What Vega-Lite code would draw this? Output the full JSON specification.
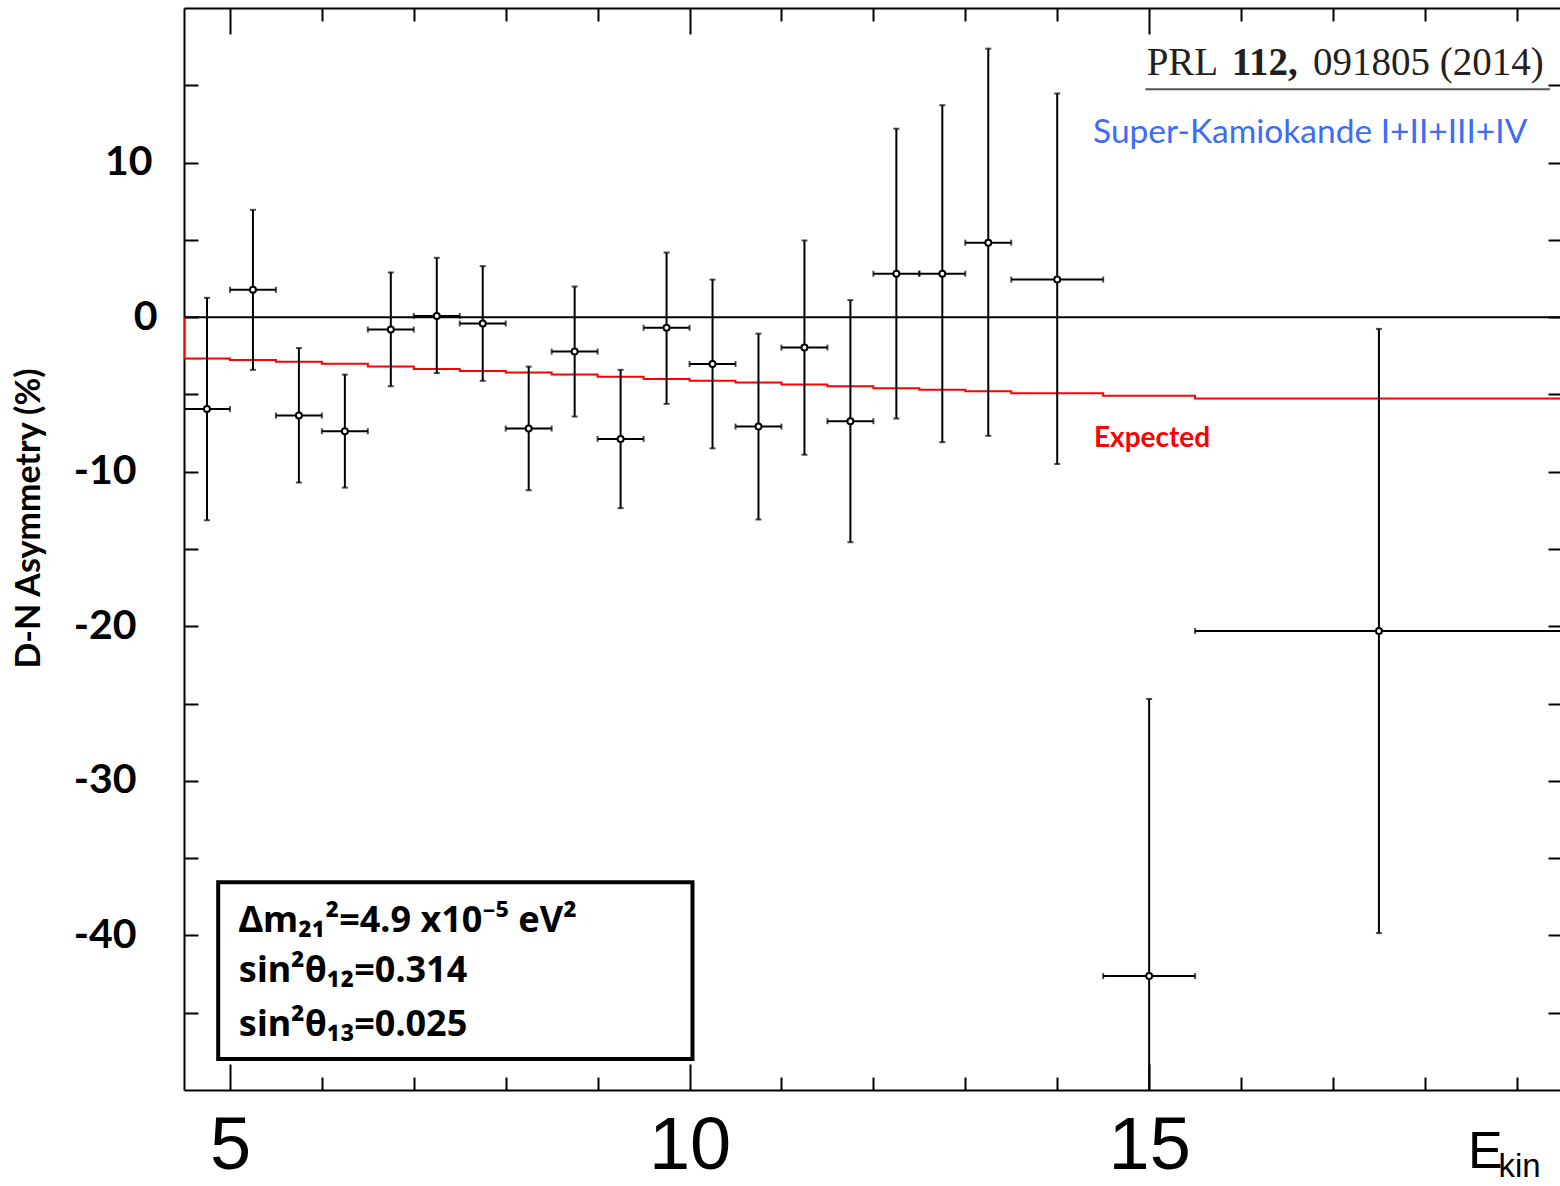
{
  "$schema": "https://vega.github.io/schema/vega-lite/v6.json",
  "width": 1376,
  "height": 1082,
  "autosize": {"type": "none"},
  "padding": {"left": 184, "top": 8, "right": 0, "bottom": 96},
  "background": "white",
  "config": {
    "view": {"stroke": null},
    "axis": {"grid": false, "domainColor": "black", "domainWidth": 2, "tickColor": "black", "tickWidth": 2}
  },
  "datasets": {
    "asym": [
      {"E": 4.75, "Elo": 4.5, "Ehi": 5.0, "A": -5.95, "lo": -13.14, "hi": 1.25},
      {"E": 5.25, "Elo": 5.0, "Ehi": 5.5, "A": 1.77, "lo": -3.41, "hi": 6.94},
      {"E": 5.75, "Elo": 5.5, "Ehi": 6.0, "A": -6.37, "lo": -10.7, "hi": -2.0},
      {"E": 6.25, "Elo": 6.0, "Ehi": 6.5, "A": -7.38, "lo": -11.03, "hi": -3.72},
      {"E": 6.75, "Elo": 6.5, "Ehi": 7.0, "A": -0.8, "lo": -4.47, "hi": 2.89},
      {"E": 7.25, "Elo": 7.0, "Ehi": 7.5, "A": 0.08, "lo": -3.62, "hi": 3.84},
      {"E": 7.75, "Elo": 7.5, "Ehi": 8.0, "A": -0.41, "lo": -4.12, "hi": 3.3},
      {"E": 8.25, "Elo": 8.0, "Ehi": 8.5, "A": -7.21, "lo": -11.2, "hi": -3.2},
      {"E": 8.75, "Elo": 8.5, "Ehi": 9.0, "A": -2.23, "lo": -6.43, "hi": 1.98},
      {"E": 9.25, "Elo": 9.0, "Ehi": 9.5, "A": -7.88, "lo": -12.36, "hi": -3.41},
      {"E": 9.75, "Elo": 9.5, "Ehi": 10.0, "A": -0.69, "lo": -5.61, "hi": 4.18},
      {"E": 10.25, "Elo": 10.0, "Ehi": 10.5, "A": -3.03, "lo": -8.49, "hi": 2.43},
      {"E": 10.75, "Elo": 10.5, "Ehi": 11.0, "A": -7.08, "lo": -13.09, "hi": -1.07},
      {"E": 11.25, "Elo": 11.0, "Ehi": 11.5, "A": -1.97, "lo": -8.9, "hi": 4.96},
      {"E": 11.75, "Elo": 11.5, "Ehi": 12.0, "A": -6.73, "lo": -14.56, "hi": 1.1},
      {"E": 12.25, "Elo": 12.0, "Ehi": 12.5, "A": 2.81, "lo": -6.56, "hi": 12.19},
      {"E": 12.75, "Elo": 12.5, "Ehi": 13.0, "A": 2.81, "lo": -8.09, "hi": 13.71},
      {"E": 13.25, "Elo": 13.0, "Ehi": 13.5, "A": 4.82, "lo": -7.68, "hi": 17.37},
      {"E": 14.0, "Elo": 13.5, "Ehi": 14.5, "A": 2.43, "lo": -9.5, "hi": 14.47},
      {"E": 15.0, "Elo": 14.5, "Ehi": 15.5, "A": -42.63, "lo": -60.5, "hi": -24.7},
      {"E": 17.5, "Elo": 15.5, "Ehi": 19.5, "A": -20.3, "lo": -39.85, "hi": -0.76}
    ],
    "expected": [
      {"i": 0, "E": 4.5, "exp": 0},
      {"i": 1, "E": 4.5, "exp": -2.67},
      {"i": 2, "E": 5.0, "exp": -2.78},
      {"i": 3, "E": 5.5, "exp": -2.89},
      {"i": 4, "E": 6.0, "exp": -3.02},
      {"i": 5, "E": 6.5, "exp": -3.19},
      {"i": 6, "E": 7.0, "exp": -3.35},
      {"i": 7, "E": 7.5, "exp": -3.48},
      {"i": 8, "E": 8.0, "exp": -3.58},
      {"i": 9, "E": 8.5, "exp": -3.71},
      {"i": 10, "E": 9.0, "exp": -3.86},
      {"i": 11, "E": 9.5, "exp": -4.0},
      {"i": 12, "E": 10.0, "exp": -4.12},
      {"i": 13, "E": 10.5, "exp": -4.23},
      {"i": 14, "E": 11.0, "exp": -4.36},
      {"i": 15, "E": 11.5, "exp": -4.47},
      {"i": 16, "E": 12.0, "exp": -4.6},
      {"i": 17, "E": 12.5, "exp": -4.7},
      {"i": 18, "E": 13.0, "exp": -4.79},
      {"i": 19, "E": 13.5, "exp": -4.92},
      {"i": 20, "E": 14.5, "exp": -5.09},
      {"i": 21, "E": 15.5, "exp": -5.26},
      {"i": 22, "E": 19.5, "exp": -5.26}
    ],
    "one": [{}]
  },
  "resolve": {"axis": {"x": "independent", "y": "independent"}},
  "layer": [
    {
      "data": {"name": "one"},
      "mark": {"type": "rule", "color": "black", "strokeWidth": 2},
      "encoding": {"y": {"datum": 0, "type": "quantitative", "axis": null}}
    },
    {
      "data": {"name": "expected"},
      "mark": {"type": "line", "interpolate": "step-after", "color": "#ff0000", "strokeWidth": 2, "clip": true},
      "encoding": {
        "x": {"field": "E", "type": "quantitative", "axis": null},
        "y": {"field": "exp", "type": "quantitative", "axis": null},
        "order": {"field": "i", "type": "quantitative"}
      }
    },
    {
      "data": {"name": "asym"},
      "mark": {"type": "rule", "color": "black", "strokeWidth": 2, "clip": true},
      "encoding": {
        "x": {
          "field": "E", "type": "quantitative",
          "scale": {"domain": [4.5, 19.47], "nice": false, "zero": false},
          "axis": {
            "orient": "bottom",
            "values": [5, 6, 7, 8, 9, 10, 11, 12, 13, 14, 15, 16, 17, 18, 19],
            "tickSize": {"condition": {"test": "datum.value % 5 === 0", "value": -26}, "value": -13},
            "labelExpr": "datum.value % 5 === 0 ? datum.label : ''",
            "labelFont": "Liberation Sans", "labelFontSize": 74, "labelFontWeight": "normal", "labelColor": "black",
            "labelPadding": 46, "labelBaseline": "top", "labelAlign": "center",
            "labelFlush": false, "labelOverlap": false,
            "title": null
          }
        },
        "y": {
          "field": "lo", "type": "quantitative",
          "scale": {"domain": [-50, 20], "nice": false, "zero": false},
          "axis": {
            "orient": "left",
            "values": [-45, -40, -35, -30, -25, -20, -15, -10, -5, 0, 5, 10, 15],
            "tickSize": -14,
            "labelExpr": "datum.value % 10 === 0 && datum.value >= -40 && datum.value <= 10 ? (datum.value < 0 ? '-' + abs(datum.value) : '' + datum.value) : ''",
            "labelFont": "Lato", "labelFontSize": 41, "labelFontWeight": "bold", "labelColor": "black",
            "labelAlign": "right", "labelBaseline": "middle",
            "labelPadding": {"condition": [{"test": "datum.value === 0", "value": 41}, {"test": "datum.value === 10", "value": 46}], "value": 62},
            "labelFlush": false, "labelOverlap": false,
            "title": "D-N Asymmetry (%)",
            "titleFont": "Lato", "titleFontSize": 34, "titleFontWeight": "bold", "titleColor": "black",
            "titleAngle": -90, "titleX": -155, "titleY": 510, "titleAlign": "center", "titleBaseline": "middle"
          }
        },
        "y2": {"field": "hi"}
      }
    },
    {
      "data": {"name": "asym"},
      "mark": {"type": "rule", "color": "black", "strokeWidth": 2, "clip": true},
      "encoding": {
        "x": {
          "field": "Elo", "type": "quantitative",
          "scale": {"domain": [4.5, 19.47], "nice": false, "zero": false},
          "axis": {
            "orient": "top",
            "values": [5, 6, 7, 8, 9, 10, 11, 12, 13, 14, 15, 16, 17, 18, 19],
            "tickSize": {"condition": {"test": "datum.value % 5 === 0", "value": -26}, "value": -13},
            "labels": false, "title": null
          }
        },
        "x2": {"field": "Ehi"},
        "y": {
          "field": "A", "type": "quantitative",
          "scale": {"domain": [-50, 20], "nice": false, "zero": false},
          "axis": {
            "orient": "right",
            "values": [-45, -40, -35, -30, -25, -20, -15, -10, -5, 0, 5, 10, 15],
            "tickSize": -12, "labels": false, "domain": false, "title": null
          }
        }
      }
    },
    {
      "data": {"name": "asym"},
      "mark": {"type": "tick", "orient": "horizontal", "size": 6, "thickness": 2, "color": "black", "clip": true},
      "encoding": {
        "x": {"field": "E", "type": "quantitative", "axis": null},
        "y": {"field": "lo", "type": "quantitative", "axis": null}
      }
    },
    {
      "data": {"name": "asym"},
      "mark": {"type": "tick", "orient": "horizontal", "size": 6, "thickness": 2, "color": "black", "clip": true},
      "encoding": {
        "x": {"field": "E", "type": "quantitative", "axis": null},
        "y": {"field": "hi", "type": "quantitative", "axis": null}
      }
    },
    {
      "data": {"name": "asym"},
      "mark": {"type": "tick", "orient": "vertical", "size": 6, "thickness": 2, "color": "black", "clip": true},
      "encoding": {
        "x": {"field": "Elo", "type": "quantitative", "axis": null},
        "y": {"field": "A", "type": "quantitative", "axis": null}
      }
    },
    {
      "data": {"name": "asym"},
      "mark": {"type": "tick", "orient": "vertical", "size": 6, "thickness": 2, "color": "black", "clip": true},
      "encoding": {
        "x": {"field": "Ehi", "type": "quantitative", "axis": null},
        "y": {"field": "A", "type": "quantitative", "axis": null}
      }
    },
    {
      "data": {"name": "asym"},
      "mark": {"type": "point", "shape": "circle", "filled": true, "fill": "white", "stroke": "black", "strokeWidth": 2, "size": 36, "opacity": 1},
      "encoding": {
        "x": {"field": "E", "type": "quantitative", "axis": null},
        "y": {"field": "A", "type": "quantitative", "axis": null}
      }
    },
    {
      "data": {"name": "one"},
      "mark": {"type": "text", "text": "Expected", "font": "Lato", "fontSize": 28, "fontWeight": "bold", "color": "#ff0000", "align": "left", "baseline": "alphabetic"},
      "encoding": {"x": {"datum": 14.4, "type": "quantitative", "axis": null}, "y": {"datum": -8.38, "type": "quantitative", "axis": null}}
    },
    {
      "data": {"name": "one"},
      "mark": {"type": "text", "text": "Super-Kamiokande I+II+III+IV", "font": "Lato", "fontSize": 33.5, "color": "#3d6cf5", "align": "left", "baseline": "alphabetic"},
      "encoding": {"x": {"datum": 14.39, "type": "quantitative", "axis": null}, "y": {"datum": 11.29, "type": "quantitative", "axis": null}}
    },
    {
      "data": {"name": "one"},
      "mark": {"type": "text", "text": "PRL", "font": "Liberation Serif", "fontSize": 39, "color": "#231f20", "align": "left", "baseline": "alphabetic"},
      "encoding": {"x": {"datum": 14.973, "type": "quantitative", "axis": null}, "y": {"datum": 15.665, "type": "quantitative", "axis": null}}
    },
    {
      "data": {"name": "one"},
      "mark": {"type": "text", "text": "112,", "font": "Liberation Serif", "fontSize": 39, "fontWeight": "bold", "color": "#231f20", "align": "left", "baseline": "alphabetic"},
      "encoding": {"x": {"datum": 15.898, "type": "quantitative", "axis": null}, "y": {"datum": 15.665, "type": "quantitative", "axis": null}}
    },
    {
      "data": {"name": "one"},
      "mark": {"type": "text", "text": "091805 (2014)", "font": "Liberation Serif", "fontSize": 39, "color": "#231f20", "align": "left", "baseline": "alphabetic"},
      "encoding": {"x": {"datum": 16.783, "type": "quantitative", "axis": null}, "y": {"datum": 15.665, "type": "quantitative", "axis": null}}
    },
    {
      "data": {"name": "one"},
      "mark": {"type": "rule", "color": "#555555", "strokeWidth": 2},
      "encoding": {
        "x": {"datum": 14.96, "type": "quantitative", "axis": null},
        "x2": {"datum": 19.36},
        "y": {"datum": 14.74, "type": "quantitative", "axis": null}
      }
    },
    {
      "data": {"name": "one"},
      "mark": {"type": "rect", "fill": "white", "stroke": "black", "strokeWidth": 4},
      "encoding": {
        "x": {"datum": 4.872, "type": "quantitative", "axis": null},
        "x2": {"datum": 10.032},
        "y": {"datum": -36.56, "type": "quantitative", "axis": null},
        "y2": {"datum": -48.0}
      }
    },
    {
      "data": {"name": "one"},
      "mark": {"type": "text", "text": "Δm₂₁²=4.9 x10⁻⁵ eV²", "font": "Noto Sans", "fontSize": 36, "fontWeight": "bold", "color": "black", "align": "left", "baseline": "alphabetic"},
      "encoding": {"x": {"datum": 5.097, "type": "quantitative", "axis": null}, "y": {"datum": -39.76, "type": "quantitative", "axis": null}}
    },
    {
      "data": {"name": "one"},
      "mark": {"type": "text", "text": "sin²θ₁₂=0.314", "font": "Noto Sans", "fontSize": 36, "fontWeight": "bold", "color": "black", "align": "left", "baseline": "alphabetic"},
      "encoding": {"x": {"datum": 5.097, "type": "quantitative", "axis": null}, "y": {"datum": -42.99, "type": "quantitative", "axis": null}}
    },
    {
      "data": {"name": "one"},
      "mark": {"type": "text", "text": "sin²θ₁₃=0.025", "font": "Noto Sans", "fontSize": 36, "fontWeight": "bold", "color": "black", "align": "left", "baseline": "alphabetic"},
      "encoding": {"x": {"datum": 5.097, "type": "quantitative", "axis": null}, "y": {"datum": -46.49, "type": "quantitative", "axis": null}}
    },
    {
      "data": {"name": "one"},
      "mark": {"type": "text", "text": "E", "font": "Liberation Sans", "fontSize": 52, "color": "black", "align": "left", "baseline": "alphabetic"},
      "encoding": {"x": {"datum": 18.469, "type": "quantitative", "axis": null}, "y": {"datum": -55.05, "type": "quantitative", "axis": null}}
    },
    {
      "data": {"name": "one"},
      "mark": {"type": "text", "text": "kin", "font": "Liberation Sans", "fontSize": 33, "color": "black", "align": "left", "baseline": "alphabetic"},
      "encoding": {"x": {"datum": 18.8, "type": "quantitative", "axis": null}, "y": {"datum": -55.6, "type": "quantitative", "axis": null}}
    }
  ]
}
